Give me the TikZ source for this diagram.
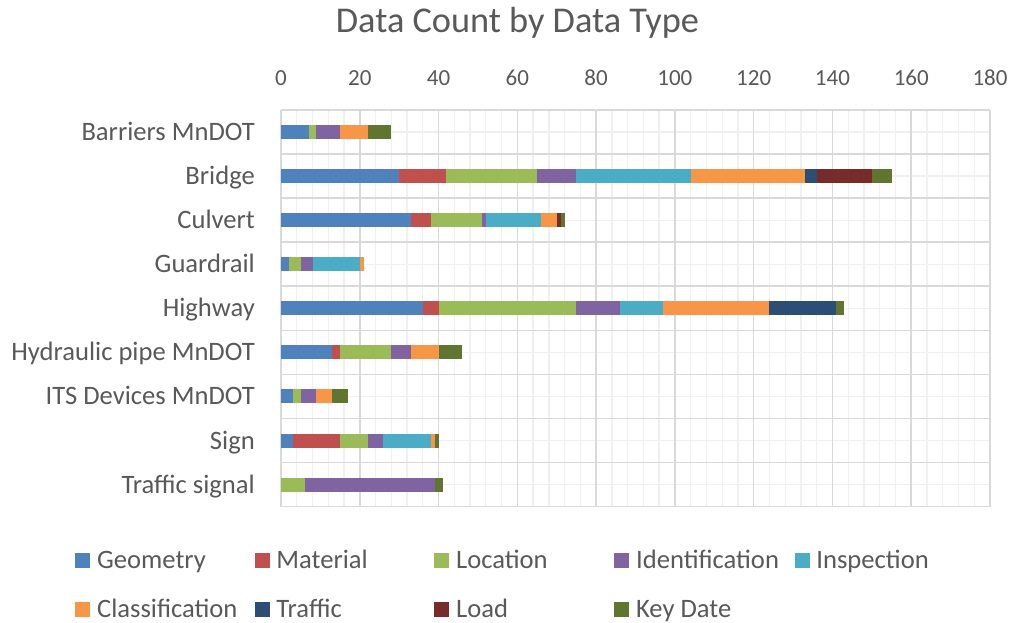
\documentclass[tikz,border=0pt]{standalone}
\usepackage{fontspec}
\setmainfont{Carlito}
\usetikzlibrary{calc}

% series colours
\definecolor{c1}{HTML}{4F81BD}% Geometry
\definecolor{c2}{HTML}{C0504D}% Material
\definecolor{c3}{HTML}{9BBB59}% Location
\definecolor{c4}{HTML}{8064A2}% Identification
\definecolor{c5}{HTML}{4BACC6}% Inspection
\definecolor{c6}{HTML}{F79646}% Classification
\definecolor{c7}{HTML}{2C4D75}% Traffic
\definecolor{c8}{HTML}{772C2A}% Load
\definecolor{c9}{HTML}{5F7530}% Key Date
\definecolor{txt}{HTML}{595959}
\definecolor{gmajor}{HTML}{D9D9D9}
\definecolor{gminor}{HTML}{F0F0F0}

% plot geometry (1 unit = 1 px, y downwards)
\def\xzero{281}
\def\xunit{3.93889}
\def\ytop{110}
\def\rowh{44.07}

\newcommand\stackbar[2]{% #1 row index, #2 nine values
  \xdef\acc{0}%
  \pgfmathsetmacro\yc{\ytop+\rowh*(#1+0.5)}%
  \foreach \v [count=\k] in {#2} {%
    \pgfmathsetmacro\xa{\xzero+\xunit*\acc}%
    \pgfmathsetmacro\newacc{\acc+\v}%
    \pgfmathsetmacro\xb{\xzero+\xunit*\newacc}%
    \ifdim\v pt>0pt
      \fill[c\k] (\xa,\yc-7) rectangle (\xb,\yc+7);
    \fi
    \xdef\acc{\newacc}%
  }%
}

\tikzset{
  lbl/.style={text=txt, inner sep=0pt, font=\fontsize{26.6}{30}\selectfont},
  tick/.style={text=txt, inner sep=0pt, anchor=base, font=\fontsize{23}{26}\selectfont},
  ttl/.style={text=txt, inner sep=0pt, anchor=base, font=\fontsize{36.3}{42}\selectfont},
  swatch/.style={minimum size=15pt, inner sep=0pt, anchor=west},
  minorgrid/.style={draw=gminor, line width=1.3pt},
  majorgrid/.style={draw=gmajor, line width=1.6pt},
}

\begin{document}
\begin{tikzpicture}[x=1pt,y=-1pt]
\useasboundingbox[fill=white] (0,0) rectangle (1011,623);

% title
\node[ttl] (title) at (517.5,33) {Data Count by Data Type};

% minor grid
\foreach \i in {1,...,44} {
  \draw[minorgrid] ({\xzero+\xunit*4*\i},\ytop) -- ({\xzero+\xunit*4*\i},{\ytop+9*\rowh});
}
\foreach \j in {0,...,8} {
  \draw[minorgrid] (\xzero,{\ytop+\rowh*(\j+0.5)}) -- ({\xzero+\xunit*180},{\ytop+\rowh*(\j+0.5)});
}
% major grid
\foreach \i in {0,...,9} {
  \draw[majorgrid] ({\xzero+\xunit*20*\i},\ytop) -- ({\xzero+\xunit*20*\i},{\ytop+9*\rowh});
}
\foreach \j in {0,...,9} {
  \draw[majorgrid] (\xzero,{\ytop+\rowh*\j}) -- ({\xzero+\xunit*180},{\ytop+\rowh*\j});
}

% axis tick labels
\foreach \t [count=\n] in {0,20,...,180} {
  \node[tick] (tick\n) at ({\xzero+\xunit*\t},86) {\t};
}

% category labels
\foreach \c [count=\n from 0] in {Barriers MnDOT,Bridge,Culvert,Guardrail,Highway,Hydraulic pipe MnDOT,ITS Devices MnDOT,Sign,Traffic signal} {
  \node[lbl, anchor=base east] (cat\n) at (255,{\ytop+\rowh*(\n+0.5)+8.5}) {\c};
}

% stacked bars
\stackbar{0}{7,0,2,6,0,7,0,0,6}
\stackbar{1}{30,12,23,10,29,29,3,14,5}
\stackbar{2}{33,5,13,1,14,4,0,1,1}
\stackbar{3}{2,0,3,3,12,1,0,0,0}
\stackbar{4}{36,4,35,11,11,27,17,0,2}
\stackbar{5}{13,2,13,5,0,7,0,0,6}
\stackbar{6}{3,0,2,4,0,4,0,0,4}
\stackbar{7}{3,12,7,4,12,1,0,0,1}
\stackbar{8}{0,0,6,33,0,0,0,0,2}

% legend
\foreach \name/\x/\y/\k in {Geometry/75/560/1, Material/254.3/560/2, Location/434/560/3,
    Identification/614/560/4, Inspection/794.3/560/5,
    Classification/75/609/6, Traffic/254.3/609/7, Load/434/609/8, Key Date/614/609/9} {
  \node[swatch, fill=c\k] (sw\k) at (\x,\y) {};
  \node[lbl, anchor=base west] (lg\k) at ($(sw\k.south east)+(6.5,0.6)$) {\name};
}
\end{tikzpicture}
\end{document}
